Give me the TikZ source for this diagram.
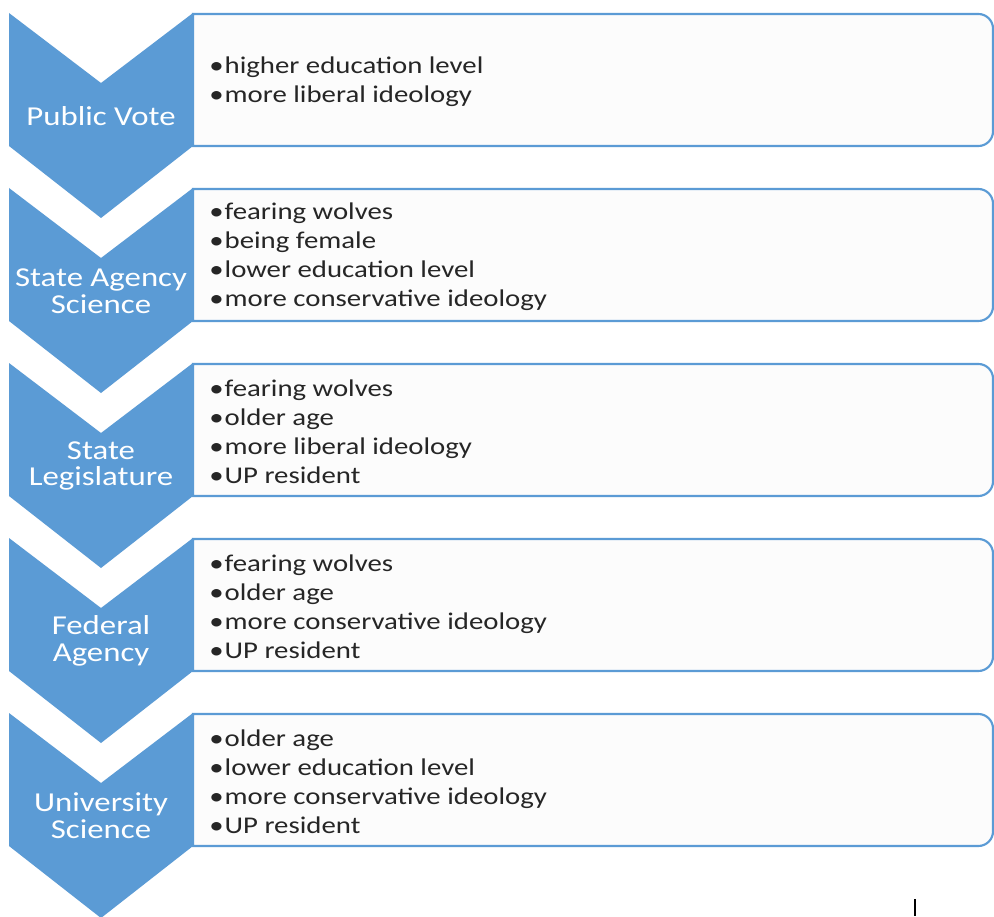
\documentclass[tikz,border=0pt]{standalone}
\usepackage{fontspec}
\setmainfont{Carlito}[FakeStretch=1.2]
\usetikzlibrary{positioning}
\definecolor{chevblue}{HTML}{5B9BD5}
\definecolor{listgray}{HTML}{262626}
\newcommand{\bul}{\textbullet\hspace{0.8pt}}

\begin{document}
\begin{tikzpicture}[x=0.75pt,y=-0.75pt,
chevron/.style={fill=chevblue, draw=none},
listbox/.style={draw=chevblue, line width=1.6pt, fill=white!99!black},
stagelabel/.style={text=white, align=center, inner sep=0pt,
    font=\fontsize{20.5}{20}\selectfont},
factors/.style={text=listgray, align=left, anchor=west, inner sep=0pt,
    font=\fontsize{18}{21.75}\selectfont}]
\useasboundingbox (0,0) rectangle (994,916);
\fill[white] (0,0) rectangle (994,916);

% boxes first, chevrons on top
\foreach \t in {13,188,363,538,713} {
  \draw[listbox] (193,\t+1) [rounded corners=11pt] -- (993,\t+1) -- (993,\t+133)
      [sharp corners] -- (193,\t+133) -- cycle;
  \fill[chevron] (9,\t) -- (101,\t+70) -- (193,\t) -- (193,\t+133)
      -- (101,\t+205) -- (9,\t+133) -- cycle;
}

\node[stagelabel] (vote) at (101,116) {Public Vote};
\node[stagelabel] (agency) at (101,291) {State Agency\\Science};
\node[stagelabel] (legis) at (101,466) {State\\Legislature};
\node[stagelabel] (federal) at (101,641) {Federal\\Agency};
\node[stagelabel] (univ) at (101,816) {University\\Science};

\node[factors] (vote-list) at (209,82) {\bul higher education level\\
  \bul more liberal ideology};
\node[factors] (agency-list) at (209,257) {\bul fearing wolves\\
  \bul being female\\ \bul lower education level\\
  \bul more conservative ideology};
\node[factors] (legis-list) at (209,432) {\bul fearing wolves\\
  \bul older age\\ \bul more liberal ideology\\
  \bul UP resident};
\node[factors] (federal-list) at (209,607) {\bul fearing wolves\\
  \bul older age\\ \bul more conservative ideology\\
  \bul UP resident};
\node[factors] (univ-list) at (209,782) {\bul older age\\
  \bul lower education level\\ \bul more conservative ideology\\
  \bul UP resident};

\coordinate (mark) at (915,899);
\draw[line width=1.2pt] (mark) -- ++(0,17);
\end{tikzpicture}
\end{document}
